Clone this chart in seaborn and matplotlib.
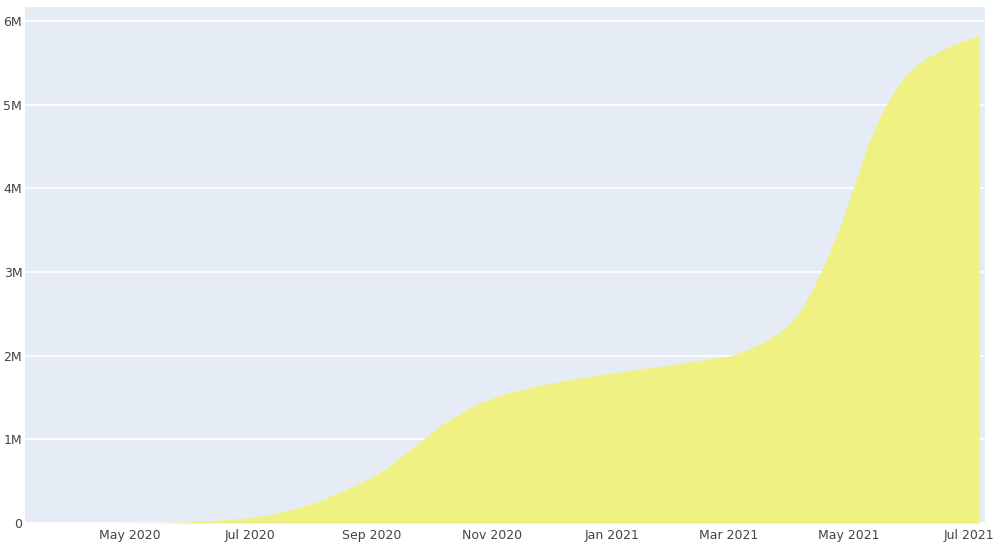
import pandas as pd
import matplotlib
matplotlib.use('Agg')
import matplotlib.pyplot as plt
import matplotlib.dates as mdates
import seaborn as sns

# weekly readings of the cumulative total, in thousands
week_start = '2020-03-10'
totals_k = [0, 0, 0, 0, 0, 0, 1, 2, 3, 5,
            8, 12, 18, 26, 36, 49, 64, 85, 115, 155,
            200, 250, 320, 395, 470, 550, 650, 780, 900, 1040,
            1170, 1270, 1370, 1450, 1510, 1565, 1600, 1640, 1670, 1705,
            1735, 1760, 1785, 1805, 1830, 1855, 1875, 1900, 1925, 1950,
            1975, 2000, 2060, 2130, 2220, 2340, 2520, 2820, 3170, 3580,
            4060, 4550, 4920, 5200, 5410, 5540, 5630, 5710, 5770, 5830]
tick_months = ['2020-05-01', '2020-07-01', '2020-09-01', '2020-11-01',
               '2021-01-01', '2021-03-01', '2021-05-01', '2021-07-01']
y_ticks = [0, 1e6, 2e6, 3e6, 4e6, 5e6, 6e6]
y_labels = ['0', '1M', '2M', '3M', '4M', '5M', '6M']

dates = pd.date_range(week_start, periods=len(totals_k), freq='7D')
df = pd.DataFrame({'date': mdates.date2num(dates),
                   'total': [v * 1000 for v in totals_k]})

sns.set_theme(style='darkgrid')
plt.rcParams['font.family'] = ['DejaVu Sans']

fig = plt.figure(figsize=(10.08, 5.46), dpi=100)
ax = fig.add_axes([0.0248, 0.042, 0.9524, 0.945])
ax.set_facecolor('#e5ecf6')

sns.histplot(data=df, x='date', weights='total', binwidth=7,
             binrange=(df['date'].iloc[0] - 3.5, df['date'].iloc[-1] + 3.5),
             element='poly', color='#eff183', alpha=1, linewidth=0, ax=ax)

ax.set_xlim(mdates.date2num(pd.Timestamp('2020-03-09')),
            mdates.date2num(pd.Timestamp('2021-07-09')))
ax.set_ylim(0, 6.167e6)
ax.set_xticks(mdates.date2num(pd.to_datetime(tick_months)))
ax.xaxis.set_major_formatter(mdates.DateFormatter('%b %Y'))
ax.set_yticks(y_ticks)
ax.set_yticklabels(y_labels)
ax.grid(axis='x', visible=False)
ax.grid(axis='y', color='white', linewidth=1.2)
ax.tick_params(axis='both', labelsize=9, colors='#444444', length=0)
ax.tick_params(axis='x', pad=4)
ax.tick_params(axis='y', pad=2)
ax.set_xlabel('')
ax.set_ylabel('')
for s in ax.spines.values():
    s.set_visible(False)

plt.savefig('out.png', dpi=100)
